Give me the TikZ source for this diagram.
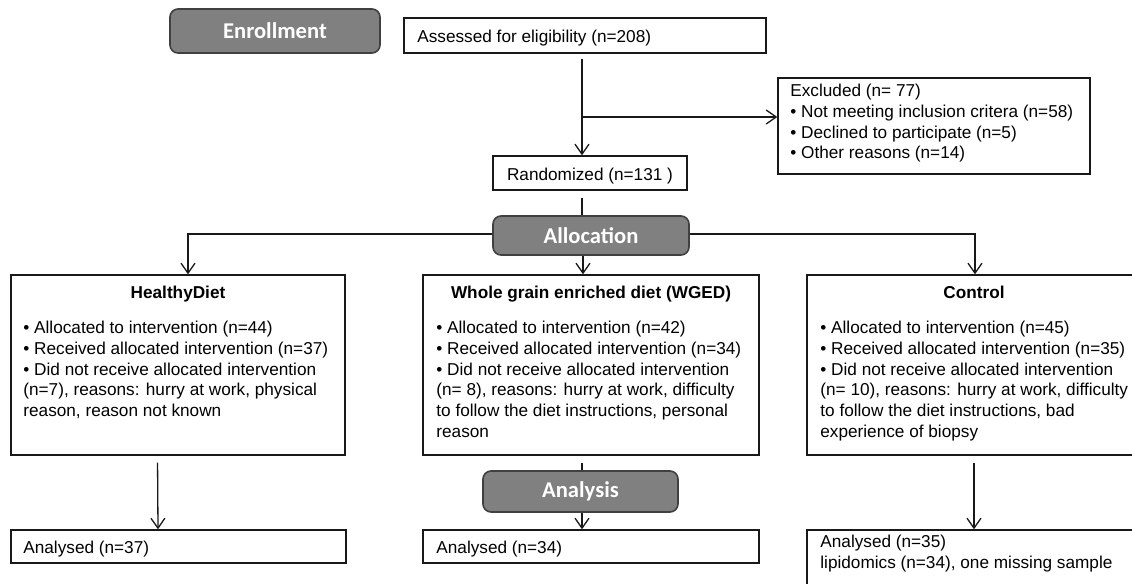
\documentclass[tikz,border=0pt]{standalone}
\usepackage{fontspec}
\setmainfont{Liberation Sans}
\newfontfamily\lblfont{Carlito}
\usetikzlibrary{arrows.meta}
\begin{document}
\begin{tikzpicture}[x=0.5pt,y=-0.5pt,
 box/.style={draw=black!90,line width=0.7pt,fill=white,inner sep=0pt},
 phase/.style={draw=black!75,line width=0.8pt,fill=black!50,rounded corners=4pt,inner sep=0pt,text=white,font=\lblfont\bfseries\fontsize{11.3}{13}\selectfont},
 txt/.style={inner sep=0pt,anchor=north west,align=left,font=\fontsize{8.6}{10.35}\selectfont,execute at begin node={\rule{0pt}{9pt}}},
 one/.style={inner sep=0pt,font=\fontsize{8.6}{10.35}\selectfont},
 ttl/.style={inner sep=0pt,anchor=base,font=\bfseries\fontsize{8.6}{10.35}\selectfont},
 conn/.style={line width=0.65pt,draw=black!90},
 arr/.style={conn,-{Straight Barb[length=5pt,width=7pt]}},
]
\useasboundingbox (0,0) rectangle (1132,584);
\clip (0,0) rectangle (1132,584);

% Enrollment
\node[phase,minimum width=105pt,minimum height=22pt] (enr) at (275,31) {Enrollment};
\node[box,minimum width=181pt,minimum height=17.5pt] (assess) at (585,35.5) {};
\node[one,anchor=base west] (assesst) at (417,42) {Assessed for eligibility (n=208)};

\node[box,minimum width=156pt,minimum height=48pt] (excl) at (934,126) {};
\node[txt] (exclt) at (790,84) {Excluded (n= 77)\\%
• Not meeting inclusion critera (n=58)\\%
• Declined to participate (n=5)\\%
• Other reasons (n=14)};

\node[box,minimum width=97pt,minimum height=17pt] (rand) at (590,173) {};
\node[one,anchor=base] (randt) at (590,180) {Randomized (n=131 )};

% Allocation
\node[phase,minimum width=98pt,minimum height=19.5pt] (alloc) at (591,235.5) {Allocation};

\node[box,minimum width=167pt,minimum height=90pt] (hd) at (178,365) {};
\node[ttl] (hdt) at (178,298) {HealthyDiet};
\node[txt] (hdb) at (23,321) {• Allocated to intervention (n=44)\\%
• Received allocated intervention (n=37)\\%
• Did not receive allocated intervention\\%
(n=7), reasons: hurry at work, physical\\%
reason, reason not known};

\node[box,minimum width=168pt,minimum height=90pt] (wg) at (591,365) {};
\node[ttl] (wgt) at (591,298) {Whole grain enriched diet (WGED)};
\node[txt] (wgb) at (436,321) {• Allocated to intervention (n=42)\\%
• Received allocated intervention (n=34)\\%
• Did not receive allocated intervention\\%
(n= 8), reasons: hurry at work, difficulty\\%
to follow the diet instructions, personal\\%
reason};

\node[box,minimum width=167pt,minimum height=90pt] (ct) at (974,365) {};
\node[ttl] (ctt) at (974,298) {Control};
\node[txt] (ctb) at (820,321) {• Allocated to intervention (n=45)\\%
• Received allocated intervention (n=35)\\%
• Did not receive allocated intervention\\%
(n= 10), reasons: hurry at work, difficulty\\%
to follow the diet instructions, bad\\%
experience of biopsy};

% Analysis
\node[phase,minimum width=97.5pt,minimum height=20.5pt] (ana) at (580.5,491.5) {Analysis};

\node[box,minimum width=167.5pt,minimum height=16.5pt] (a1) at (178.5,546.5) {};
\node[one,anchor=base west] (a1t) at (23,553) {Analysed (n=37)};
\node[box,minimum width=168pt,minimum height=16.5pt] (a2) at (591,546.5) {};
\node[one,anchor=base west] (a2t) at (436,553) {Analysed (n=34)};
\node[box,minimum width=167pt,minimum height=28.5pt] (a3) at (974,558.5) {};
\node[txt] (a3t) at (820,535) {Analysed (n=35)\\lipidomics (n=34), one missing sample};

% connectors
\draw[arr,shorten <=2.5pt] ([xshift=-1.5pt]assess.south) -- ([xshift=-4pt]rand.north);
\coordinate (br) at (582,117);
\draw[arr] (br) -- (br -| excl.west);
\draw[conn,shorten <=3.5pt] ([xshift=-4pt]rand.south) -- ([xshift=-4.5pt]alloc.north);
\draw[arr] ([yshift=0.75pt]alloc.west) -| ([xshift=5pt]hd.north);
\draw[arr] ([yshift=0.75pt]alloc.east) -| ([xshift=0.5pt]ct.north);
\draw[arr] ([xshift=-4pt]alloc.south) -- ([xshift=-4pt]wg.north);
\draw[arr,shorten <=3.5pt] ([xshift=-10.25pt]hd.south) -- ([xshift=-10.25pt]a1.north);
\draw[conn,shorten <=3.5pt] ([xshift=-4.5pt]wg.south) -- ([xshift=0.75pt]ana.north);
\draw[arr] ([xshift=0.75pt]ana.south) -- ([xshift=-4.5pt]a2.north);
\draw[arr,shorten <=3.5pt] (ct.south) -- (a3.north);
\end{tikzpicture}
\end{document}
